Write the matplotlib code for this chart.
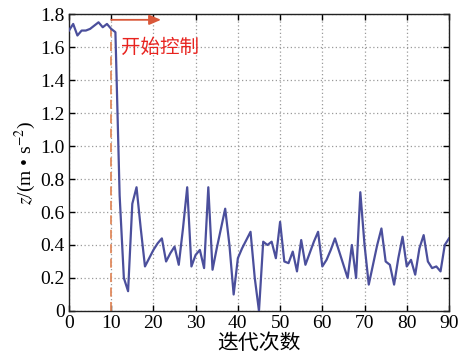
import matplotlib
matplotlib.use("Agg")
import matplotlib.pyplot as plt
from matplotlib.ticker import FuncFormatter, MultipleLocator

# Iteration index and measured acceleration z
iterations = list(range(0, 91))
z_values = [
    1.70, 1.74, 1.67, 1.70, 1.70, 1.71, 1.73, 1.75, 1.72, 1.74,
    1.71, 1.69, 0.70, 0.20, 0.12, 0.65, 0.75, 0.50, 0.27, 0.32,
    0.37, 0.41, 0.44, 0.30, 0.35, 0.39, 0.28, 0.50, 0.75, 0.27,
    0.34, 0.37, 0.26, 0.75, 0.25, 0.38, 0.50, 0.62, 0.40, 0.10,
    0.32, 0.38, 0.43, 0.48, 0.20, 0.00, 0.42, 0.40, 0.42, 0.32,
    0.54, 0.30, 0.29, 0.36, 0.24, 0.43, 0.28, 0.35, 0.42, 0.48,
    0.27, 0.31, 0.37, 0.44, 0.36, 0.28, 0.20, 0.40, 0.20, 0.72,
    0.40, 0.16, 0.28, 0.40, 0.50, 0.30, 0.28, 0.16, 0.32, 0.45,
    0.27, 0.31, 0.22, 0.38, 0.46, 0.30, 0.26, 0.27, 0.24, 0.40,
    0.44,
]

control_start = 10
control_label = "开始控制"
x_label = "迭代次数"
y_label = r"$z$/(m • s$^{-2}$)"

plt.rcParams["font.family"] = ["Liberation Serif", "Noto Sans CJK SC", "DejaVu Sans"]
plt.rcParams["mathtext.fontset"] = "stix"

fig = plt.figure(figsize=(4.66, 3.63), dpi=100)
ax = fig.add_axes([0.148, 0.1433, 0.8155, 0.818])

ax.plot(iterations, z_values, color="#4b4f9c", linewidth=1.6, zorder=3)

# start-of-control marker
ax.plot([control_start, control_start], [0, 1.71], color="#e08a5e",
        linestyle=(0, (5, 3)), linewidth=1.3, zorder=2)
ax.annotate("", xy=(21.8, 1.765), xytext=(control_start, 1.765),
            arrowprops=dict(arrowstyle="-|>,head_length=0.7,head_width=0.3",
                            color="#d9583a", linewidth=1.3, shrinkA=0, shrinkB=0))
ax.text(12.3, 1.6, control_label, color="#e8231f", fontsize=14,
        family=["Noto Sans CJK SC", "DejaVu Sans"], va="center", ha="left")

ax.set_xlim(0, 90)
ax.set_ylim(0, 1.8)
ax.xaxis.set_major_locator(MultipleLocator(10))
ax.yaxis.set_major_locator(MultipleLocator(0.2))
ax.yaxis.set_major_formatter(FuncFormatter(lambda v, p: "0" if abs(v) < 1e-9 else f"{v:.1f}"))

ax.grid(True, linestyle=(0, (1, 2)), color="#9a9a9a", linewidth=0.9)
ax.tick_params(direction="in", top=True, right=True, length=4, width=1,
               labelsize=14, pad=3)
for lab in ax.get_xticklabels() + ax.get_yticklabels():
    lab.set_family("Liberation Serif")
for s in ax.spines.values():
    s.set_linewidth(1.0)
    s.set_color("#222222")

ax.set_xlabel(x_label, fontsize=15, family=["Noto Sans CJK SC", "DejaVu Sans"], labelpad=0)
ax.set_ylabel(y_label, fontsize=14, labelpad=2)

fig.savefig("out.png", dpi=100)
